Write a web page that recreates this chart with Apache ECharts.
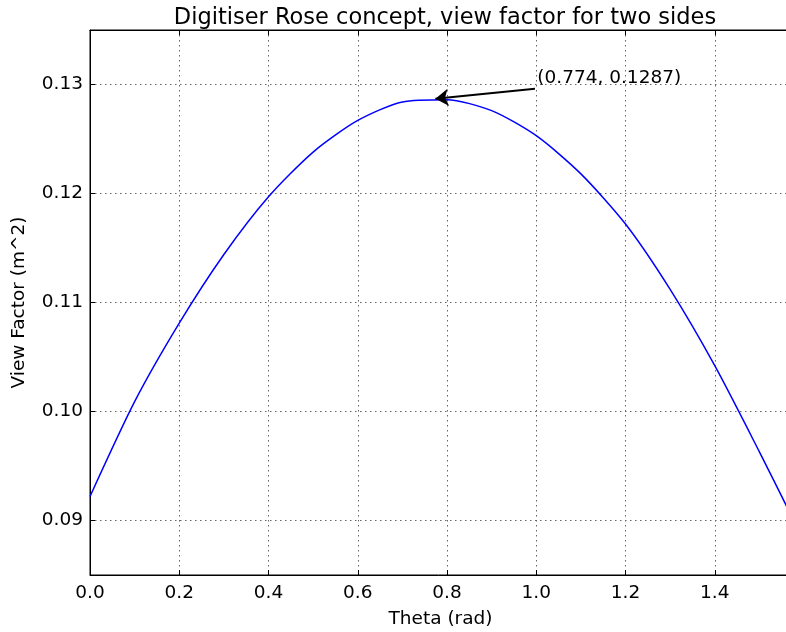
<!DOCTYPE html>
<html>
<head>
<meta charset="utf-8">
<script src="https://cdn.jsdelivr.net/npm/echarts@6/dist/echarts.min.js"></script>
<style>
html,body{margin:0;padding:0;background:#fff;}
#c{width:786px;height:632px;}
</style>
</head>
<body>
<div id="c"></div>
<script>
// ---- data ----
const thetaValues = [0, 0.1, 0.2, 0.3, 0.4, 0.5, 0.6, 0.7, 0.8, 0.9, 1.0, 1.1, 1.2, 1.3, 1.4, 1.5, 1.5708];
const viewFactor  = [0.0922, 0.1009, 0.1081, 0.1144, 0.1197, 0.1238, 0.1267, 0.1284, 0.1286, 0.1276, 0.1253, 0.1218, 0.1172, 0.1112, 0.1042, 0.0963, 0.0905];
const yTickValues = [0.09, 0.10, 0.11, 0.12, 0.13];
const peakPoint = [0.774, 0.1287];
const annotationTextAt = [1.0, 0.13];
const arrowStart = [0.997, 0.1296];
const annotationText = '(0.774, 0.1287)';
const xMin = 0, xMax = 1.5708, xStep = 0.2;
const yMin = 0.085, yMax = 0.135;

const seriesData = thetaValues.map((t, i) => [t, viewFactor[i]]);

const font = 'DejaVu Sans';
const gridLine = { show: true, lineStyle: { color: '#666', width: 1, type: [1.5, 3.5] } };

const chart = echarts.init(document.getElementById('c'), null, { renderer: 'canvas' });
chart.setOption({
  animation: false,
  backgroundColor: '#fff',
  title: {
    text: 'Digitiser Rose concept, view factor for two sides',
    left: 440, top: 2, textAlign: 'center',
    textStyle: { fontFamily: font, fontSize: 22.5, fontWeight: 'normal', color: '#000' }
  },
  grid: { left: 90, top: 30, right: -5, bottom: 57, show: true, borderColor: '#000', borderWidth: 1,
    containLabel: false, outerBoundsMode: 'none' },
  xAxis: [{
    type: 'value', min: xMin, max: xMax, interval: xStep,
    name: 'Theta (rad)', nameLocation: 'middle', nameGap: 35,
    nameTextStyle: { fontFamily: font, fontSize: 18.5, color: '#000' },
    axisLine: { show: true, onZero: false, lineStyle: { color: '#000', width: 1 } },
    axisTick: { show: true, inside: true, length: 5, lineStyle: { color: '#000' } },
    axisLabel: { fontFamily: font, fontSize: 18.5, color: '#000', margin: 9, showMaxLabel: false,
      formatter: v => v.toFixed(1) },
    splitLine: gridLine
  }, {
    type: 'value', min: xMin, max: xMax, interval: xStep, position: 'top',
    axisLine: { show: true, onZero: false, lineStyle: { color: '#000', width: 1 } },
    axisTick: { show: true, inside: true, length: 5, lineStyle: { color: '#000' } },
    axisLabel: { show: false },
    splitLine: { show: false }
  }],
  yAxis: [{
    type: 'value', min: yMin, max: yMax,
    name: 'View Factor (m^2)', nameLocation: 'middle', nameGap: 61,
    nameTextStyle: { fontFamily: font, fontSize: 18.5, color: '#000' },
    axisLine: { show: true, onZero: false, lineStyle: { color: '#000', width: 1 } },
    axisTick: { show: true, inside: true, length: 5, lineStyle: { color: '#000' }, customValues: yTickValues },
    axisLabel: { fontFamily: font, fontSize: 18.5, color: '#000', margin: 7, customValues: yTickValues,
      formatter: v => v.toFixed(2) },
    splitLine: gridLine
  }],
  series: [{
    type: 'line',
    data: seriesData,
    showSymbol: false,
    smooth: 0.25,
    lineStyle: { color: '#0000ff', width: 1.5 },
    itemStyle: { color: '#0000ff' },
    silent: true,
    markLine: {
      silent: true,
      animation: false,
      symbol: ['none', 'arrow'],
      symbolSize: 13,
      label: { show: false },
      lineStyle: { color: '#000', width: 2, type: 'solid' },
      data: [[{ coord: arrowStart }, { coord: peakPoint }]]
    },
    markPoint: {
      silent: true,
      symbol: 'circle', symbolSize: 0,
      label: {
        show: true, position: 'right', distance: 1, offset: [0, -6],
        fontFamily: font, fontSize: 18.5, color: '#000',
        formatter: annotationText
      },
      data: [{ coord: annotationTextAt }]
    }
  }]
});
</script>
</body>
</html>
